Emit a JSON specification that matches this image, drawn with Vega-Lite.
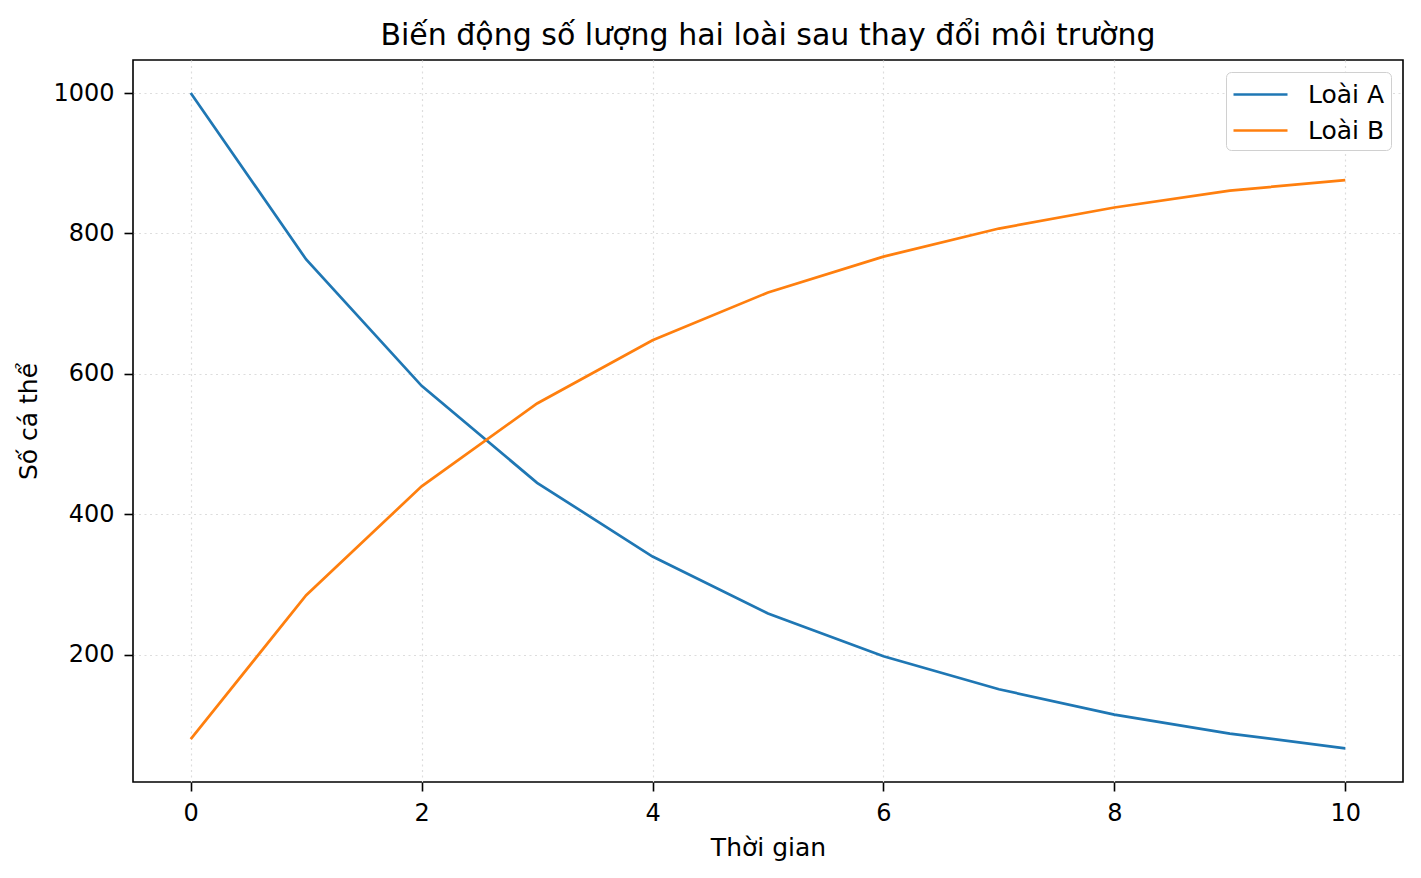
{
  "$schema": "https://vega.github.io/schema/vega-lite/v6.json",
  "autosize": "none",
  "padding": {"left": 133, "top": 60, "right": 18, "bottom": 96},
  "width": 1270,
  "height": 722,
  "background": "white",
  "title": {
    "text": "Biến động số lượng hai loài sau thay đổi môi trường",
    "font": "DejaVu Sans",
    "fontSize": 30,
    "fontWeight": "normal",
    "color": "black",
    "offset": 9
  },
  "data": {
    "values": [
      {"t": 0, "loai": "Loài A", "n": 1000},
      {"t": 1, "loai": "Loài A", "n": 763},
      {"t": 2, "loai": "Loài A", "n": 583},
      {"t": 3, "loai": "Loài A", "n": 445},
      {"t": 4, "loai": "Loài A", "n": 340},
      {"t": 5, "loai": "Loài A", "n": 259},
      {"t": 6, "loai": "Loài A", "n": 198},
      {"t": 7, "loai": "Loài A", "n": 151},
      {"t": 8, "loai": "Loài A", "n": 115},
      {"t": 9, "loai": "Loài A", "n": 88},
      {"t": 10, "loai": "Loài A", "n": 67},
      {"t": 0, "loai": "Loài B", "n": 80},
      {"t": 1, "loai": "Loài B", "n": 285},
      {"t": 2, "loai": "Loài B", "n": 440},
      {"t": 3, "loai": "Loài B", "n": 558},
      {"t": 4, "loai": "Loài B", "n": 648},
      {"t": 5, "loai": "Loài B", "n": 716},
      {"t": 6, "loai": "Loài B", "n": 767},
      {"t": 7, "loai": "Loài B", "n": 807},
      {"t": 8, "loai": "Loài B", "n": 837},
      {"t": 9, "loai": "Loài B", "n": 861},
      {"t": 10, "loai": "Loài B", "n": 876}
    ]
  },
  "mark": {"type": "line", "strokeWidth": 2.7},
  "encoding": {
    "x": {
      "field": "t", "type": "quantitative", "title": "Thời gian",
      "scale": {"domain": [-0.5, 10.5], "nice": false, "zero": false},
      "axis": {"values": [0, 2, 4, 6, 8, 10], "format": "d"}
    },
    "y": {
      "field": "n", "type": "quantitative", "title": "Số cá thể",
      "scale": {"domain": [19, 1047], "nice": false, "zero": false},
      "axis": {"values": [200, 400, 600, 800, 1000], "format": "d"}
    },
    "color": {
      "field": "loai", "type": "nominal",
      "scale": {"domain": ["Loài A", "Loài B"], "range": ["#1f77b4", "#ff7f0e"]},
      "legend": {
        "title": null,
        "orient": "top-right",
        "offset": 12,
        "symbolType": "M-1.8,0H1.8",
        "symbolSize": 900,
        "symbolOffset": 12,
        "symbolStrokeWidth": 2.7,
        "labelFont": "DejaVu Sans",
        "labelFontSize": 25,
        "labelColor": "black",
        "labelOffset": 31,
        "rowPadding": 6,
        "padding": 6,
        "fillColor": "white",
        "strokeColor": "#d0d0d0",
        "cornerRadius": 5
      }
    }
  },
  "config": {
    "view": {"stroke": "black", "strokeWidth": 1.6},
    "axis": {
      "labelFont": "DejaVu Sans",
      "labelFontSize": 24,
      "labelColor": "black",
      "titleFont": "DejaVu Sans",
      "titleFontSize": 25,
      "titleFontWeight": "normal",
      "titleColor": "black",
      "domain": false,
      "tickColor": "black",
      "tickSize": 9,
      "tickWidth": 1.6,
      "grid": true,
      "gridColor": "#dddddd",
      "gridDash": [2, 3.5],
      "gridWidth": 1.2
    },
    "axisX": {"labelPadding": 10, "titlePadding": 10},
    "axisY": {"labelPadding": 10, "titlePadding": 11}
  }
}
